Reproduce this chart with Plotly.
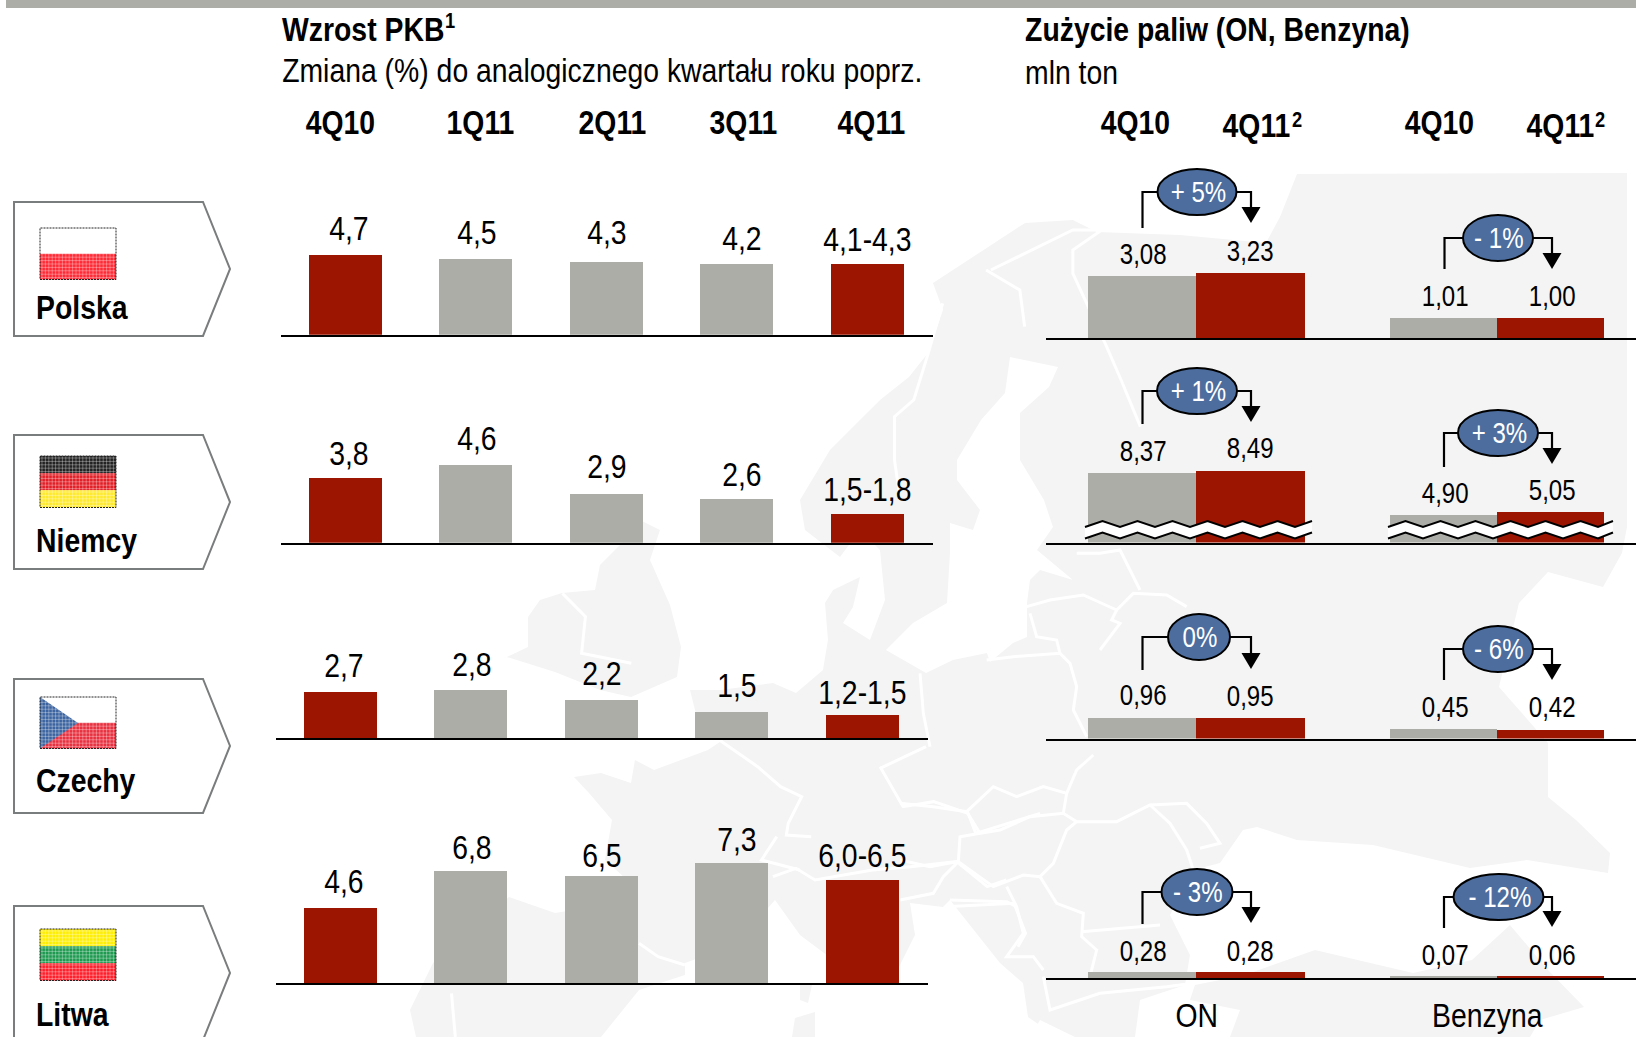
import json
import plotly.graph_objects as go

# ---------- data ----------
quarters = ["4Q10", "1Q11", "2Q11", "3Q11", "4Q11"]
countries = ["Polska", "Niemcy", "Czechy", "Litwa"]
gdp_polska = [4.7, 4.5, 4.3, 4.2, 4.2]
gdp_niemcy = [3.8, 4.6, 2.9, 2.6, 1.7]
gdp_czechy = [2.7, 2.8, 2.2, 1.5, 1.35]
gdp_litwa = [4.6, 6.8, 6.5, 7.3, 6.3]
gdp_labels_polska = ["4,7", "4,5", "4,3", "4,2", "4,1-4,3"]
gdp_labels_niemcy = ["3,8", "4,6", "2,9", "2,6", "1,5-1,8"]
gdp_labels_czechy = ["2,7", "2,8", "2,2", "1,5", "1,2-1,5"]
gdp_labels_litwa = ["4,6", "6,8", "6,5", "7,3", "6,0-6,5"]

fuel_periods = ["4Q10", "4Q11"]
on_polska, ben_polska = [3.08, 3.23], [1.01, 1.00]
on_niemcy, ben_niemcy = [8.37, 8.49], [4.90, 5.05]
on_czechy, ben_czechy = [0.96, 0.95], [0.45, 0.42]
on_litwa, ben_litwa = [0.28, 0.28], [0.07, 0.06]
pct_on = ["+ 5%", "+ 1%", "0%", "- 3%"]
pct_ben = ["- 1%", "+ 3%", "- 6%", "- 12%"]

# ---------- styles / layout constants ----------
W, H = 1636, 1037
RED, GRAY, BLUE, LAND = "#9c1500", "#adada8", "#4c6d9e", "#f4f4f4"
FONT = "Liberation Sans, Arial, sans-serif"


def px(x):
    return x / W


def py(y):
    return 1 - y / H


fig = go.Figure()
layout_axes = {}
annotations = []
shapes = []
squeeze = []   # horizontal text condensing per annotation


def text(x, y, s, size=33, bold=False, color="black", anchor="center", **kw):
    annotations.append(dict(
        x=px(x), y=py(y), xref="paper", yref="paper", text=f"<b>{s}</b>" if bold else s,
        showarrow=False, xanchor=anchor, yanchor="middle",
        font=dict(family=FONT, size=size, color=color), **kw))
    squeeze.append([0.83 if size < 30 else 0.86, "left center" if anchor == "left" else "center"])


def panel(n, cats, vals, labels, colors, x0, x1, base, scale, xrange, bargap, floor,
          lab_size, lab_gap, shifts, dys):
    top = base - 135
    xa, ya = f"xaxis{n}", f"yaxis{n}"
    xr, yr = f"x{n}", f"y{n}"
    fig.add_trace(go.Bar(
        x=list(range(len(cats))), y=vals, marker=dict(color=colors, line=dict(width=0)),
        xaxis=xr, yaxis=yr, showlegend=False, width=1 - bargap, hoverinfo="skip"))
    layout_axes[xa] = dict(domain=[px(x0), px(x1)], anchor=yr, range=xrange, showgrid=False,
                           zeroline=False, showticklabels=False, ticks="", showline=True,
                           linecolor="black", linewidth=2, fixedrange=True, tickvals=[])
    layout_axes[ya] = dict(domain=[py(base), py(top)], anchor=xr, visible=False,
                           range=[floor, floor + 135 / scale], fixedrange=True)
    for i, (v, lab) in enumerate(zip(vals, labels)):
        annotations.append(dict(
            x=i, y=v, xref=xr, yref=yr, text=lab, showarrow=False, xanchor="center",
            yanchor="middle", yshift=lab_gap + dys[i], xshift=shifts[i],
            font=dict(family=FONT, size=lab_size, color="black")))
        squeeze.append([0.83 if lab_size < 30 else 0.86, "center"])


# ---------- GDP panels ----------
gdp_rows = [
    (gdp_polska, gdp_labels_polska, 280.5, 334.7, 17.0, [0, 0, 3, -1, -2]),
    (gdp_niemcy, gdp_labels_niemcy, 280.5, 542.7, 17.0, [-1, 0, 1, -2, -2]),
    (gdp_czechy, gdp_labels_czechy, 275.5, 738.2, 17.2, [0, 0, 1, 1, -4]),
    (gdp_litwa, gdp_labels_litwa, 275.5, 982.9, 16.4, [0, -2, -5, -2, -2]),
]
n = 1
for vals, labs, x0, base, scale, dy in gdp_rows:
    cols = [RED, GRAY, GRAY, GRAY, RED]
    panel(n, quarters, vals, labs, cols, x0, x0 + 652, base, scale, [-0.494, 4.506], 0.44, 0,
          33, 26, [4, 2, 1, 6, 1], dy)
    n += 1

# ---------- Fuel panels ----------
fuel_rows = [
    (on_polska, ben_polska, 337.9, 20.1, 0, 0),
    (on_niemcy, ben_niemcy, 542.5, 20.0, 4.87, 3.515),
    (on_czechy, ben_czechy, 738.6, 22.0, 0, 0),
    (on_litwa, ben_litwa, 978.4, 20.5, 0, 0),
]
for on_v, ben_v, base, scale, f_on, f_ben in fuel_rows:
    panel(n, fuel_periods, on_v, [f"{v:.2f}".replace(".", ",") for v in on_v], [GRAY, RED],
          1046, 1346, base, scale, [-0.5 - 41.6 / 108.5, 1.5 + 41.4 / 108.5], 0, f_on, 29, 22, [1, 0], [0, 0])
    n += 1
    panel(n, fuel_periods, ben_v, [f"{v:.2f}".replace(".", ",") for v in ben_v], [GRAY, RED],
          1346, 1636, base, scale, [-0.5 - 44 / 107, 1.5 + 32 / 107], 0, f_ben, 29, 22, [1, 1], [0, 0])
    n += 1


# ---------- decorative geometry helpers ----------
def poly(pts, close=True):
    d = "M" + " L".join(f"{px(x):.5f},{py(y):.5f}" for x, y in pts)
    return d + (" Z" if close else "")


def add_poly(pts, fill=None, line=None, width=0, close=True, layer="below", dash=None):
    shapes.append(dict(type="path", path=poly(pts, close), xref="paper", yref="paper", layer=layer,
                       fillcolor=fill if fill else "rgba(0,0,0,0)",
                       line=dict(color=line if line else "rgba(0,0,0,0)", width=width,
                                 dash=dash or "solid")))


def rect(x0, y0, x1, y1, fill, line=None, width=0, layer="above", dash=None):
    shapes.append(dict(type="rect", x0=px(x0), x1=px(x1), y0=py(y1), y1=py(y0), xref="paper",
                       yref="paper", layer=layer, fillcolor=fill,
                       line=dict(color=line if line else "rgba(0,0,0,0)", width=width,
                                 dash=dash or "solid")))


# ---------- background map ----------
main_land = [
    (933, 283), (1025, 223), (1073, 220), (1097, 232), (1180, 235), (1266, 243), (1280, 217), (1297, 174),
    (1627, 173), (1627, 527), (1622, 553), (1603, 587), (1548, 572), (1519, 603), (1499, 687), (1548, 743),
    (1548, 797), (1576, 820), (1610, 853), (1608, 873), (1527, 860), (1470, 868), (1373, 845), (1297, 840),
    (1257, 827), (1243, 830), (1220, 863), (1193, 870), (1170, 915), (1190, 955), (1185, 985), (1140, 1000),
    (1135, 1037), (1057, 1037), (1028, 1017), (1023, 983), (1000, 963), (950, 900), (943, 907), (910, 903),
    (915, 935), (895, 975), (880, 985), (840, 965), (800, 935), (775, 900), (735, 945), (685, 963),
    (685, 975), (639, 990), (601, 1037), (416, 1037), (410, 1010), (433, 963), (509, 897), (555, 913),
    (605, 905), (624, 877), (605, 860), (612, 820), (589, 793), (574, 777), (601, 773), (631, 783),
    (635, 760), (654, 770), (708, 750), (723, 740), (700, 730), (690, 690), (720, 690), (773, 683),
    (796, 693), (823, 670), (828, 640), (825, 603), (833, 590), (860, 577), (853, 607), (843, 623),
    (870, 640), (885, 600), (880, 550), (860, 530), (840, 557), (805, 530), (800, 500), (830, 450),
    (880, 400), (909, 377), (928, 353), (943, 310),
]
add_poly(main_land, fill=LAND)
baltic = [
    (1010, 357), (1058, 367), (1049, 387), (1020, 413), (1020, 460), (1044, 500), (1053, 527), (1037, 550),
    (1073, 580), (1040, 570), (1030, 580), (1027, 603), (1027, 637), (1013, 643), (990, 662), (987, 653),
    (953, 660), (926, 673), (886, 650), (913, 623), (947, 603), (950, 553), (950, 523), (973, 530),
    (980, 510), (957, 480), (957, 460), (981, 420), (1005, 393),
]
add_poly(baltic, fill="white")
turkey = [(1195, 985), (1245, 975), (1315, 950), (1413, 973), (1472, 960), (1510, 925), (1548, 970), (1584, 1007),
          (1540, 1020), (1530, 1037), (1230, 1037), (1240, 1010), (1190, 1000)]
add_poly(turkey, fill=LAND)
uk_ireland = [(640, 520), (660, 530), (650, 560), (670, 605), (681, 647), (677, 677), (631, 697), (600, 690),
              (555, 672), (507, 657), (528, 647), (528, 617), (540, 600), (562, 593), (595, 590), (600, 565), (620, 545)]
add_poly(uk_ireland, fill=LAND)
add_poly([(800, 985), (812, 985), (808, 1003), (800, 1000)], fill=LAND)
add_poly([(795, 1018), (815, 1012), (815, 1037), (792, 1037)], fill=LAND)
add_poly([(1030, 1037), (1040, 1020), (1075, 1037)], fill="white")


def z10(p):
    return [(x / 3 + 900, y / 3 + 750) for x, y in p]


def z9(p):
    return [(x / 3 + 800, y / 3 + 480) for x, y in p]


def z7(p):
    return [(x / 2.613 + 440, y / 3 + 560) for x, y in p]


def z6(p):
    return [(x / 2.074 + 880, y / 3 + 160) for x, y in p]


borders = [
    z10([(0, 160), (100, 170), (200, 185), (240, 250), (300, 240), (390, 200), (490, 190), (530, 215), (650, 215),
         (750, 165), (860, 160), (920, 220), (960, 280), (900, 295)]),
    z10([(200, 185), (280, 110), (350, 140), (430, 110), (500, 130), (490, 190)]),
    z10([(500, 130), (530, 60), (580, 15)]),
    z10([(530, 215), (500, 240), (460, 340), (420, 380), (370, 375), (280, 410), (175, 335), (180, 260), (240, 250)]),
    z10([(420, 380), (470, 460), (550, 490), (545, 560), (590, 600), (570, 680)]),
    z10([(545, 545), (780, 525)]),
    z10([(750, 165), (810, 220), (860, 300), (880, 360)]),
    z10([(175, 335), (130, 380), (100, 430), (0, 450)]),
    z10([(320, 410), (350, 470), (370, 550), (320, 620), (400, 620), (430, 660)]),
    z10([(150, 450), (320, 455), (350, 470)]),
    z10([(140, 470), (240, 620), (320, 680)]),
    z10([(0, 330), (90, 350), (170, 335)]),
    z10([(430, 680), (450, 780), (600, 730), (800, 710), (880, 700)]),
    z9([(560, 540), (640, 530), (780, 520), (810, 550), (830, 620), (820, 690), (860, 770)]),
    z9([(680, 380), (750, 360), (850, 345), (950, 390), (1000, 340), (1100, 345), (1160, 380)]),
    z9([(690, 400), (710, 470), (770, 480), (780, 520)]),
    z9([(830, 220), (900, 220), (960, 210), (1020, 330)]),
    z9([(360, 580), (370, 700), (390, 800)]),
    z9([(950, 390), (935, 420), (960, 430), (900, 510)]),
    z6([(220, 330), (290, 390), (300, 500)]),
    z6([(130, 430), (100, 580), (70, 720), (30, 770), (30, 900), (40, 1000)]),
    z6([(460, 210), (400, 270), (400, 340), (470, 560), (500, 660), (540, 800)]),
    z6([(230, 330), (400, 210), (460, 210)]),
    z7([(730, 540), (830, 620), (890, 680), (945, 710), (910, 790), (905, 825), (970, 830)]),
    z7([(880, 830), (840, 900), (940, 930)]),
    z7([(1150, 620), (1210, 740), (1290, 725), (1380, 760), (1400, 820), (1568, 760)]),
    z7([(1270, 560), (1150, 625)]),
    z7([(520, 1150), (570, 1190), (640, 1215)]),
    z7([(30, 1300), (40, 1431)]),
    z7([(870, 950), (930, 925), (980, 960), (1130, 930), (1230, 920), (1350, 905), (1430, 980), (1480, 960)]),
    z7([(1320, 1040), (1500, 1030), (1530, 1120), (1510, 1160)]),
    z7([(320, 100), (380, 170), (370, 280), (500, 310)]),
]
for b in borders:
    add_poly(b, line="white", width=3, close=False)

# ---------- header band ----------
rect(6, 0, 1636, 8, "#adada8", layer="below")

# ---------- country tags and flags ----------
boxes = [202, 435, 679, 906]
flags = [
    ["#ffffff", "#ff2a35"],
    ["#222222", "#e21f26", "#ffe92b"],
    ["#ffffff", "#e8303f"],
    ["#ffee00", "#1e9a50", "#ff1e2a"],
]
flag_tops = [228, 456, 697, 929]
lab_ys = [308, 540, 780, 1014]
for name, y0, stripes, ft, ly in zip(countries, boxes, flags, flag_tops, lab_ys):
    add_poly([(14, y0), (203, y0), (230, y0 + 67), (203, y0 + 134), (14, y0 + 134)],
             fill="white", line="#7a7d7d", width=2, layer="above")
    h = 51.5 / len(stripes)
    for i, c in enumerate(stripes):
        rect(40, ft + i * h, 116, ft + (i + 1) * h, c)
    if name == "Czechy":
        add_poly([(40, ft), (78, ft + 26), (40, ft + 51.5)], fill="#3b64a0", layer="above")
    # woven texture of the flag
    x = 42
    d = ""
    while x < 116:
        d += f"M{px(x):.5f},{py(ft):.5f} L{px(x):.5f},{py(ft + 51.5):.5f} "
        x += 3.4
    yy = ft + 2
    while yy < ft + 51:
        d += f"M{px(40):.5f},{py(yy):.5f} L{px(116):.5f},{py(yy):.5f} "
        yy += 3.4
    shapes.append(dict(type="path", path=d, xref="paper", yref="paper", layer="above",
                       line=dict(color="rgba(255,255,255,0.33)", width=1)))
    rect(40, ft, 116, ft + 51.5, "rgba(0,0,0,0)", line="#222222", width=1, dash="2px,1px")
    text(34, ly, name, size=33, bold=True, anchor="left")


# ---------- axis-break waves ----------
def wave(x0, x1, y):
    pts, x, down = [], x0, True
    while x < x1:
        pts.append((x, y + (3 if down else -3)))
        x += 17.5
        down = not down
    pts.append((x1, y + (3 if down else -3)))
    return pts


for x0, x1 in [(1085, 1312), (1388, 1613)]:
    top_w = wave(x0, x1, 524)
    bot_w = wave(x0, x1, 535.5)
    add_poly(top_w + bot_w[::-1], fill="white", layer="above")
    add_poly(top_w, line="black", width=2, close=False, layer="above")
    add_poly(bot_w, line="black", width=2, close=False, layer="above")

# ---------- change pills ----------
pills = [
    (1197, 192, 39.5, pct_on[0], 1142.5, 1251, 228, 223), (1498, 238, 35, pct_ben[0], 1444.5, 1552, 269, 269),
    (1197, 391, 40, pct_on[1], 1142.5, 1251, 424, 422), (1498, 433, 40, pct_ben[1], 1444, 1552, 467, 464),
    (1199, 637, 31, pct_on[2], 1142.5, 1251, 670, 669), (1498, 649, 35, pct_ben[2], 1444, 1552, 680, 680),
    (1197, 892, 35.5, pct_on[3], 1142.5, 1251, 924, 923), (1498.5, 897, 45, pct_ben[3], 1444, 1552, 928, 927),
]
for cx, cy, rx, lab, lx, rx2, lb, tip in pills:
    add_poly([(lx, lb), (lx, cy), (cx, cy), (rx2, cy), (rx2, tip - 12)], line="black", width=2.2,
             close=False, layer="above")
    add_poly([(rx2 - 9.5, tip - 16), (rx2 + 9.5, tip - 16), (rx2, tip)], fill="black", layer="above")
    shapes.append(dict(type="circle", x0=px(cx - rx), x1=px(cx + rx), y0=py(cy + 23), y1=py(cy - 23),
                       xref="paper", yref="paper", fillcolor=BLUE, layer="above",
                       line=dict(color="black", width=2)))
    text(cx + 1, cy, lab, size=29, color="white")

# ---------- headings ----------
text(280, 30, "Wzrost PKB", size=33, bold=True, anchor="left")
text(443, 21, "1", size=22, bold=True, anchor="left")
text(280, 70, "Zmiana (%) do analogicznego kwartału roku poprz.", size=33, anchor="left")
text(1023, 30, "Zużycie paliw (ON, Benzyna)", size=33, bold=True, anchor="left")
text(1023, 72, "mln ton", size=33, anchor="left")
for x, q in zip([340, 481, 612, 743, 871], quarters):
    text(x, 123, q, size=33, bold=True)
for x, lab in [(1135, "4Q10"), (1439, "4Q10")]:
    text(x, 123, lab, size=33, bold=True)
for x, lab in [(1256, "4Q11"), (1560, "4Q11")]:
    text(x, 126, lab, size=33, bold=True)
for x in [1297, 1600]:
    text(x, 119, "2", size=22, bold=True)
text(1197, 1015, "ON", size=33)
text(1487, 1015, "Benzyna", size=33)

fig.update_layout(
    width=W, height=H, margin=dict(l=0, r=0, t=0, b=0), autosize=False,
    paper_bgcolor="white", plot_bgcolor="rgba(0,0,0,0)", showlegend=False,
    bargap=0, shapes=shapes, annotations=annotations, **layout_axes,
)
# page margin off; the chart's condensed typeface is not installed, so condense the real text
post = ("document.body.style.margin='0';document.body.style.overflow='hidden';"
        "var sq=" + json.dumps(squeeze) + ";"
        "document.querySelectorAll('.annotation').forEach(function(a){"
        "var s=sq[+a.getAttribute('data-index')];var t=a.querySelector('.annotation-text');"
        "if(s&&t){t.style.transformBox='fill-box';t.style.transformOrigin=s[1];"
        "t.style.transform='scaleX('+s[0]+')';}});")
fig.write_html("out.html", config={"displayModeBar": False}, post_script=post)
